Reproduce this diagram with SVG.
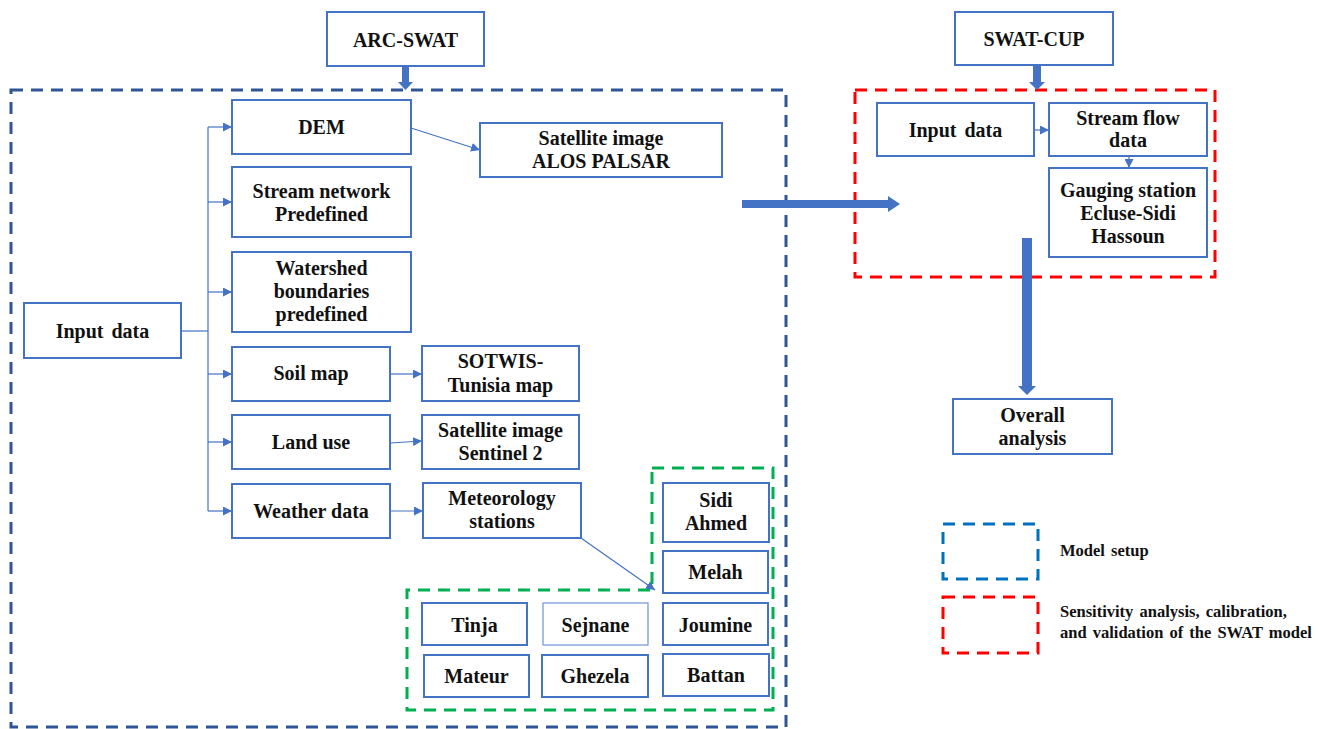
<svg xmlns="http://www.w3.org/2000/svg" width="1322" height="729" viewBox="0 0 1322 729">
<defs>
<style>
.box{fill:#fff;stroke:#4472C4;stroke-width:2}
.t{font-family:"Liberation Serif","Times New Roman",serif;font-weight:bold;font-size:20px;fill:#111;text-anchor:middle}
.lg{font-family:"Liberation Serif","Times New Roman",serif;font-weight:bold;font-size:16.5px;fill:#111;word-spacing:2px}
.ln{fill:none;stroke:#4472C4;stroke-width:1.2}
.thick{fill:#4472C4}
</style>
<marker id="ah" viewBox="0 0 10 10" refX="10" refY="5" markerWidth="9" markerHeight="9" markerUnits="userSpaceOnUse" orient="auto"><path d="M0,0 L10,5 L0,10 Z" fill="#4472C4"/></marker>
</defs>
<rect width="1322" height="729" fill="#fff"/>

<g id="regions">
<rect x="11" y="90" width="775" height="637" fill="none" stroke="#2F5597" stroke-width="3" stroke-dasharray="12,8"/>
<rect x="855" y="90" width="360" height="187" fill="none" stroke="#FF0000" stroke-width="3" stroke-dasharray="12,8"/>
<path d="M652,468 H773 V710 H407 V590 H652 Z" fill="none" stroke="#00B050" stroke-width="3" stroke-dasharray="12,8"/>
</g>

<g id="connectors">
<path class="ln" d="M181,331 H208"/>
<path class="ln" d="M208,127 V511"/>
<path class="ln" d="M208,127 H232" marker-end="url(#ah)"/>
<path class="ln" d="M208,202 H232" marker-end="url(#ah)"/>
<path class="ln" d="M208,292 H232" marker-end="url(#ah)"/>
<path class="ln" d="M208,374 H232" marker-end="url(#ah)"/>
<path class="ln" d="M208,442 H232" marker-end="url(#ah)"/>
<path class="ln" d="M208,511 H232" marker-end="url(#ah)"/>
<path class="ln" d="M411,128 L480,150" marker-end="url(#ah)"/>
<path class="ln" d="M390,374 H422" marker-end="url(#ah)"/>
<path class="ln" d="M390,443 L422,441" marker-end="url(#ah)"/>
<path class="ln" d="M390,511 H423" marker-end="url(#ah)"/>
<path class="ln" d="M581,538 L655,590" marker-end="url(#ah)"/>
<path class="ln" d="M1034,130 H1049" marker-end="url(#ah)"/>
<path class="ln" d="M1129,156 V168" marker-end="url(#ah)"/>
<polygon class="thick" points="402,66 409,66 409,82 413,82 405.5,90 398,82 402,82"/>
<polygon class="thick" points="1033,65 1041,65 1041,82 1045,82 1037,90 1029,82 1033,82"/>
<polygon class="thick" points="742,200 888,200 888,196 900,204 888,212 888,208 742,208"/>
<polygon class="thick" points="1022,238 1032,238 1032,386 1036,386 1027,395 1018,386 1022,386"/>
</g>

<g id="arc-swat"><rect class="box" x="327" y="12" width="157" height="54"/><text class="t" x="405.5" y="47">ARC-SWAT</text></g>
<g id="swat-cup"><rect class="box" x="955" y="12" width="158" height="53"/><text class="t" x="1034" y="46">SWAT-CUP</text></g>

<g id="input-data-left"><rect class="box" x="24" y="303" width="157" height="55"/><text class="t" x="102.5" y="338" word-spacing="3">Input data</text></g>
<g id="dem"><rect class="box" x="232" y="100" width="179" height="54"/><text class="t" x="321.5" y="134">DEM</text></g>
<g id="stream-network"><rect class="box" x="232" y="167" width="179" height="70"/><text class="t" x="321.5" y="198">Stream network</text><text class="t" x="321.5" y="221">Predefined</text></g>
<g id="watershed"><rect class="box" x="232" y="252" width="179" height="80"/><text class="t" x="321.5" y="275">Watershed</text><text class="t" x="321.5" y="298">boundaries</text><text class="t" x="321.5" y="321">predefined</text></g>
<g id="soil-map"><rect class="box" x="232" y="347" width="158" height="54"/><text class="t" x="311" y="380">Soil map</text></g>
<g id="land-use"><rect class="box" x="232" y="415" width="158" height="54"/><text class="t" x="311" y="449">Land use</text></g>
<g id="weather-data"><rect class="box" x="232" y="484" width="158" height="54"/><text class="t" x="311" y="518">Weather data</text></g>

<g id="alos"><rect class="box" x="480" y="123" width="242" height="54"/><text class="t" x="601" y="145">Satellite image</text><text class="t" x="601" y="168">ALOS PALSAR</text></g>
<g id="sotwis"><rect class="box" x="422" y="346" width="157" height="55"/><text class="t" x="500.5" y="368">SOTWIS-</text><text class="t" x="500.5" y="392">Tunisia map</text></g>
<g id="sentinel"><rect class="box" x="422" y="415" width="157" height="54"/><text class="t" x="500.5" y="437">Satellite image</text><text class="t" x="500.5" y="460">Sentinel 2</text></g>
<g id="meteorology"><rect class="box" x="423" y="483" width="158" height="55"/><text class="t" x="502" y="505">Meteorology</text><text class="t" x="502" y="528">stations</text></g>

<g id="sidi-ahmed"><rect class="box" x="663" y="483" width="106" height="59"/><text class="t" x="716" y="507">Sidi</text><text class="t" x="716" y="530">Ahmed</text></g>
<g id="melah"><rect class="box" x="663" y="551" width="105" height="42"/><text class="t" x="715.5" y="579">Melah</text></g>
<g id="joumine"><rect class="box" x="663" y="603" width="105" height="42"/><text class="t" x="715.5" y="632">Joumine</text></g>
<g id="battan"><rect class="box" x="663" y="654" width="106" height="42"/><text class="t" x="716" y="682">Battan</text></g>
<g id="tinja"><rect class="box" x="422" y="603" width="105" height="42"/><text class="t" x="474.5" y="632">Tinja</text></g>
<g id="sejnane"><rect class="box" x="543" y="603" width="105" height="42" style="stroke:#7A9BD8;stroke-width:1.3"/><text class="t" x="595.5" y="632">Sejnane</text></g>
<g id="mateur"><rect class="box" x="424" y="655" width="105" height="42"/><text class="t" x="476.5" y="683">Mateur</text></g>
<g id="ghezela"><rect class="box" x="542" y="655" width="106" height="42"/><text class="t" x="595" y="683">Ghezela</text></g>

<g id="input-data-right"><rect class="box" x="877" y="103" width="157" height="53"/><text class="t" x="955.5" y="137" word-spacing="3">Input data</text></g>
<g id="stream-flow"><rect class="box" x="1049" y="103" width="158" height="53"/><text class="t" x="1128" y="125">Stream flow</text><text class="t" x="1128" y="147">data</text></g>
<g id="gauging"><rect class="box" x="1049" y="168" width="158" height="89"/><text class="t" x="1128" y="197">Gauging station</text><text class="t" x="1128" y="220">Ecluse-Sidi</text><text class="t" x="1128" y="243">Hassoun</text></g>
<g id="overall"><rect class="box" x="953" y="399" width="159" height="55"/><text class="t" x="1032.5" y="422">Overall</text><text class="t" x="1032.5" y="445">analysis</text></g>

<g id="legend">
<rect x="943" y="524" width="95" height="55" fill="none" stroke="#0070C0" stroke-width="3" stroke-dasharray="12,8"/>
<rect x="943" y="597" width="95" height="56" fill="none" stroke="#FF0000" stroke-width="3" stroke-dasharray="12,8"/>
<text class="lg" x="1060" y="556">Model setup</text>
<text class="lg" x="1060" y="617">Sensitivity analysis, calibration,</text>
<text class="lg" x="1060" y="638">and validation of the SWAT model</text>
</g>
</svg>
